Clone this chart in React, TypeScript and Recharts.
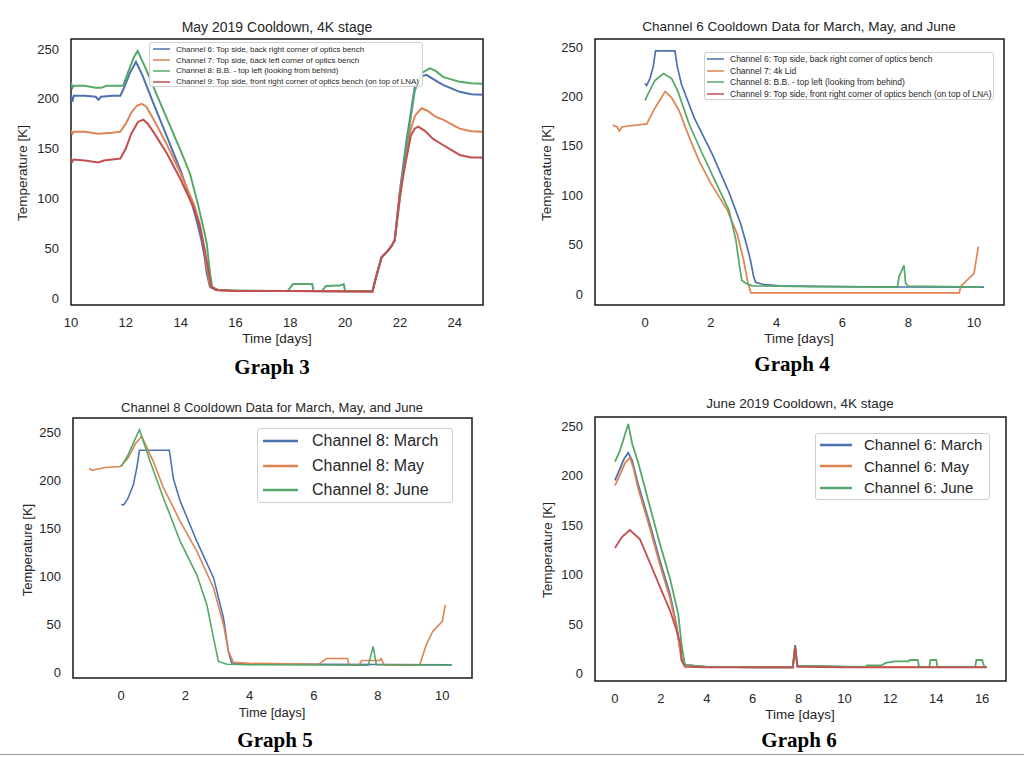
import React from 'react';
import { LineChart, Line, XAxis, YAxis, ReferenceArea, Legend } from 'recharts';

type Pt = [number, number];

const BLUE = '#4C72B0';
const ORANGE = '#DD8452';
const GREEN = '#55A868';
const RED = '#C44E52';
const SANS = '"Liberation Sans", Arial, Helvetica, sans-serif';
const SERIF = '"Liberation Serif", "Times New Roman", serif';
const INK = '#262626';

// ---- Graph 3: May 2019 cooldown, 4K stage ----
const G3_NAMES = [
  'Channel 6: Top side, back right corner of optics bench',
  'Channel 7: Top side, back left corner of optics bench',
  'Channel 8: B.B. - top left (looking from behind)',
  'Channel 9: Top side, front right corner of optics bench (on top of LNA)',
];
const G3_X_TICKS = [10, 12, 14, 16, 18, 20, 22, 24];
const G3_CH6: Pt[] = [
  [10, 203], [10.05, 197], [10.1, 203], [10.5, 203], [10.9, 202], [11.0, 199], [11.1, 202], [11.5, 203],
  [11.8, 203], [11.95, 212], [12.15, 226], [12.37, 237], [12.6, 224], [13.0, 196], [13.5, 162], [14.0, 128],
  [14.4, 96], [14.6, 76], [14.76, 58], [14.88, 40], [14.95, 25], [15.07, 11], [15.3, 8], [16, 7], [18, 7],
  [21.0, 6.5], [21.1, 18], [21.33, 41], [21.55, 47], [21.69, 52], [21.81, 58], [22.0, 108], [22.24, 158],
  [22.4, 186], [22.54, 212], [22.75, 222], [22.97, 224], [23.2, 220], [23.57, 214], [24.18, 207],
  [24.6, 204.5], [25, 204],
];
const G3_CH7: Pt[] = [
  [10, 168], [10.05, 165], [10.1, 167], [10.5, 167], [11.0, 165], [11.5, 166], [11.8, 167], [12.0, 175],
  [12.2, 186], [12.4, 193], [12.58, 195], [12.75, 192], [13.0, 180], [13.5, 154], [14.0, 125], [14.5, 93],
  [14.7, 74], [14.85, 52], [14.95, 33], [15.07, 12], [15.3, 8], [16, 7], [18, 7], [21.0, 6.5], [21.1, 18],
  [21.33, 41], [21.55, 47], [21.69, 52], [21.81, 58], [22.0, 106], [22.2, 140], [22.4, 170], [22.55, 183],
  [22.79, 190.5], [23.0, 188], [23.3, 182], [23.57, 179], [24.18, 170], [24.6, 167.5], [25, 167],
];
const G3_CH8: Pt[] = [
  [10, 216], [10.05, 211], [10.1, 213], [10.5, 213], [10.9, 211], [11.1, 211], [11.3, 213], [11.9, 213],
  [12.1, 228], [12.3, 242], [12.43, 248], [12.7, 232], [13.1, 206], [13.5, 180], [14.0, 148], [14.34, 125],
  [14.64, 93], [14.85, 68], [14.95, 55], [15.07, 25], [15.15, 11], [15.4, 8], [16, 7.5], [17.9, 7], [18.1, 14],
  [18.8, 14], [18.85, 7], [19.15, 7], [19.3, 12], [19.8, 12.5], [19.95, 14], [20.0, 7], [21.0, 7], [21.1, 18],
  [21.33, 41], [21.55, 47], [21.69, 52], [21.81, 58], [22.0, 100], [22.2, 145], [22.4, 182], [22.54, 208],
  [22.8, 226], [23.09, 230.6], [23.3, 228], [23.57, 222], [24.18, 217], [24.6, 215.5], [25, 215],
];
const G3_CH9: Pt[] = [
  [10, 140], [10.05, 137], [10.1, 139], [10.5, 138], [11.0, 136], [11.2, 138], [11.8, 140], [12.0, 150],
  [12.2, 165], [12.45, 177], [12.64, 179], [12.8, 175], [13.0, 167], [13.5, 145], [14.0, 119], [14.5, 89],
  [14.7, 72], [14.85, 52], [15.0, 30], [15.1, 12], [15.3, 8], [16, 7], [18, 7], [21.0, 6.5], [21.1, 18],
  [21.33, 41], [21.55, 47], [21.69, 52], [21.81, 58], [22.0, 103], [22.2, 135], [22.4, 163], [22.54, 170],
  [22.66, 172], [22.9, 168], [23.2, 160], [23.57, 153.6], [24.18, 143.6], [24.6, 141], [25, 141],
];

// ---- Graph 4: Channel 6 cooldown, March / May / June ----
const G4_NAMES = [
  'Channel 6: Top side, back right corner of optics bench',
  'Channel 7: 4k Lid',
  'Channel 8: B.B. - top left (looking from behind)',
  'Channel 9: Top side, front right corner of optics bench (on top of LNA)',
];
const G4_X_TICKS = [0, 2, 4, 6, 8, 10];
const G4_CH6: Pt[] = [
  [0, 213], [0.05, 211], [0.15, 218], [0.25, 230], [0.32, 246], [0.91, 246], [0.98, 230], [1.11, 212],
  [1.5, 178], [2.05, 141], [2.55, 103], [2.9, 72], [3.07, 52], [3.2, 35], [3.3, 18], [3.36, 12], [3.57, 10],
  [4.07, 8.4], [6, 7.5], [8, 7.2], [10.3, 7],
];
const G4_CH7: Pt[] = [
  [-0.98, 171], [-0.85, 169], [-0.78, 165], [-0.7, 169], [-0.5, 170], [0, 172], [0.05, 172], [0.3, 188],
  [0.61, 204.8], [0.8, 199], [1.03, 186], [1.34, 159], [1.64, 135], [2.0, 112], [2.5, 85], [2.8, 61],
  [3.0, 34], [3.12, 12], [3.22, 1.3], [9.55, 1.3], [9.6, 8], [10.0, 21], [10.13, 48],
];
const G4_CH8: Pt[] = [
  [0, 196], [0.1, 203], [0.3, 216], [0.56, 223], [0.81, 218], [1.0, 205], [1.34, 172], [1.7, 145],
  [2.05, 120], [2.55, 85], [2.76, 55], [2.86, 31], [2.94, 14], [3.06, 11], [3.26, 8.4], [5, 7.5], [7.67, 7],
  [7.72, 17.5], [7.87, 29], [7.92, 11], [8.0, 8], [10.2, 7],
];
const G4_CH9: Pt[] = [];

// ---- Graph 5: Channel 8 cooldown, March / May / June ----
const G5_NAMES = ['Channel 8: March', 'Channel 8: May', 'Channel 8: June'];
const G5_X_TICKS = [0, 2, 4, 6, 8, 10];
const G5_MARCH: Pt[] = [
  [0, 174.5], [0.08, 174], [0.2, 180], [0.38, 195], [0.5, 215], [0.57, 231], [1.5, 231], [1.58, 212.5],
  [1.63, 201], [1.84, 178], [2.36, 136], [2.88, 98], [3.19, 56], [3.34, 21.5], [3.44, 9.4], [4.0, 8.3],
  [10.3, 7.5],
];
const G5_MAY: Pt[] = [
  [-1, 212], [-0.9, 210], [-0.8, 211], [-0.5, 213], [-0.03, 214], [0.2, 222], [0.45, 238], [0.64, 245.5],
  [1.0, 219.5], [1.32, 191.7], [1.84, 157], [2.36, 125.7], [2.88, 87.5], [3.19, 49], [3.34, 21.5], [3.5, 10],
  [4.0, 9], [6.15, 8], [6.4, 14], [7.05, 14], [7.1, 7], [7.4, 7], [7.5, 12], [8.05, 12], [8.1, 14], [8.2, 7],
  [9.3, 7], [9.5, 28], [9.7, 42], [10.0, 52.6], [10.1, 70],
];
const G5_JUNE: Pt[] = [
  [0, 214], [0.2, 225], [0.4, 240], [0.57, 252.4], [0.9, 219.5], [1.32, 181], [1.84, 136], [2.36, 101],
  [2.67, 70], [2.88, 35], [3.03, 11], [3.3, 8], [4, 7.5], [7.7, 7], [7.85, 26.7], [7.95, 7.6], [10.3, 7],
];

// ---- Graph 6: June 2019 cooldown, 4K stage ----
const G6_NAMES = ['Channel 6: March', 'Channel 6: May', 'Channel 6: June'];
const G6_X_TICKS = [0, 2, 4, 6, 8, 10, 12, 14, 16];
const G6_MARCH: Pt[] = [
  [0, 195], [0.2, 206], [0.4, 217], [0.58, 223], [0.75, 215], [1.0, 192], [1.53, 150], [1.96, 114],
  [2.4, 80], [2.69, 48], [2.91, 14], [3.05, 9], [4, 7], [7.75, 6.5], [7.85, 29], [7.95, 8], [10, 7], [16.2, 7],
];
const G6_MAY: Pt[] = [
  [0, 189.7], [0.2, 200], [0.45, 213], [0.65, 218], [0.8, 208], [1.0, 188], [1.53, 146], [1.96, 110],
  [2.4, 76], [2.69, 46], [2.91, 13], [3.05, 9], [4, 7], [7.75, 6.5], [7.85, 27], [7.95, 8], [10, 7], [16.2, 7],
];
const G6_JUNE: Pt[] = [
  [0, 214], [0.2, 224], [0.42, 240], [0.58, 252], [0.75, 232], [1.0, 214], [1.53, 168], [1.96, 131],
  [2.4, 96], [2.76, 60], [2.91, 28], [3.05, 9], [3.2, 8.5], [4, 7], [7.75, 6.5], [7.85, 27], [7.95, 8],
  [10.9, 7], [11.0, 8.5], [11.6, 8.5], [11.8, 11], [12.2, 12.5], [12.8, 12.5], [12.85, 14], [13.2, 14],
  [13.25, 7], [13.7, 7], [13.75, 14], [14.0, 14], [14.05, 7], [15.7, 7], [15.75, 14], [16.0, 14],
  [16.1, 7], [16.2, 7],
];
const G6_RED: Pt[] = [
  [0, 127], [0.3, 138], [0.65, 145], [1.09, 135.6], [1.53, 111.7], [1.96, 87.8], [2.4, 63.8], [2.69, 43.3],
  [2.85, 30], [2.91, 13], [3.05, 7], [4, 6.5], [7.75, 6.5], [7.85, 27], [7.95, 7], [10, 6.5], [16.2, 6.5],
];

const Y_TICKS = [0, 50, 100, 150, 200, 250];

const rows = (pts: Pt[]) => pts.map(([t, v]) => ({ t, v }));

interface Series {
  name: string;
  color: string;
  points: Pt[];
  noLegend?: boolean;
}

interface LegendBox {
  left: number;
  top: number;
  width: number;
  height: number;
  fontSize: number;
  rowH: number;
  handle: number;
  gap: number;
  padX: number;
  padY: number;
  lineW: number;
}

interface PanelProps {
  left: number;
  top: number;
  width: number;
  height: number;
  margin: { top: number; right: number; bottom: number; left: number };
  xDomain: [number, number];
  yDomain: [number, number];
  xTicks: number[];
  series: Series[];
  legend: LegendBox;
  strokeW: number;
}

// legend keeps the series order (recharts would sort the payload by name)
const renderLegend = (lg: LegendBox, series: Series[]) => () => (
  <div
    style={{
      width: lg.width,
      height: lg.height,
      boxSizing: 'border-box',
      border: '1px solid #cfcfcf',
      borderRadius: 3,
      background: 'rgba(255,255,255,0.85)',
      padding: `${lg.padY}px ${lg.padX}px`,
      fontFamily: SANS,
      fontSize: lg.fontSize,
      color: INK,
    }}
  >
    {series.filter(s => !s.noLegend).map(s => (
      <div key={s.name} style={{ display: 'flex', alignItems: 'center', height: lg.rowH, whiteSpace: 'nowrap' }}>
        <svg width={lg.handle} height={6} style={{ marginRight: lg.gap, flex: 'none' }}>
          <line x1={0} x2={lg.handle} y1={3} y2={3} stroke={s.color} strokeWidth={lg.lineW} />
        </svg>
        {s.name}
      </div>
    ))}
  </div>
);

function Panel(p: PanelProps) {
  const tick = { fontSize: 13, fill: INK, fontFamily: SANS };
  return (
    <div style={{ position: 'absolute', left: p.left, top: p.top }}>
      <LineChart width={p.width} height={p.height} margin={p.margin}>
        <XAxis
          type="number"
          dataKey="t"
          domain={p.xDomain}
          allowDataOverflow
          ticks={p.xTicks}
          tickLine={false}
          axisLine={false}
          tick={tick}
          tickMargin={7}
          height={30}
        />
        <YAxis
          type="number"
          domain={p.yDomain}
          allowDataOverflow
          ticks={Y_TICKS}
          tickLine={false}
          axisLine={false}
          tick={tick}
          tickMargin={6}
          width={45}
        />
        <ReferenceArea
          x1={p.xDomain[0]}
          x2={p.xDomain[1]}
          y1={p.yDomain[0]}
          y2={p.yDomain[1]}
          fill="none"
          stroke="#1a1a1a"
          strokeWidth={1.5}
          ifOverflow="visible"
        />
        {p.series.map(s => (
          <Line
            key={s.name}
            data={rows(s.points)}
            dataKey="v"
            name={s.name}
            type="linear"
            stroke={s.color}
            strokeWidth={p.strokeW}
            dot={false}
            activeDot={false}
            legendType={s.noLegend ? 'none' : 'line'}
            isAnimationActive={false}
          />
        ))}
        <Legend
          verticalAlign="middle"
          align="center"
          layout="vertical"
          content={renderLegend(p.legend, p.series)}
          wrapperStyle={{ left: p.legend.left, top: p.legend.top, width: p.legend.width, height: p.legend.height }}
        />
      </LineChart>
    </div>
  );
}

const Txt = ({ x, y, size, children, rotate, bold, serif }: any) => (
  <div
    style={{
      position: 'absolute',
      left: x,
      top: y,
      transform: `translate(-50%, -50%)${rotate ? ' rotate(-90deg)' : ''}`,
      fontFamily: serif ? SERIF : SANS,
      fontSize: size,
      fontWeight: bold ? 700 : 400,
      color: serif ? '#000' : INK,
      whiteSpace: 'nowrap',
      lineHeight: 1,
    }}
  >
    {children}
  </div>
);

export default function App() {
  return (
    <div style={{ position: 'absolute', left: 0, top: 0, width: 1024, height: 757, background: '#fff', overflow: 'hidden' }}>
      <Panel
        left={0}
        top={0}
        width={512}
        height={380}
        margin={{ top: 39, right: 29, bottom: 45, left: 26 }}
        xDomain={[10, 25.03]}
        yDomain={[-7, 260]}
        xTicks={G3_X_TICKS}
        strokeW={2}
        series={[
          { name: G3_NAMES[0], color: BLUE, points: G3_CH6 },
          { name: G3_NAMES[1], color: ORANGE, points: G3_CH7 },
          { name: G3_NAMES[2], color: GREEN, points: G3_CH8 },
          { name: G3_NAMES[3], color: RED, points: G3_CH9 },
        ]}
        legend={{ left: 149, top: 42, width: 274, height: 45, fontSize: 7.9, rowH: 10.8, handle: 17, gap: 6, padX: 3, padY: 1, lineW: 1.5 }}
      />
      <Panel
        left={512}
        top={0}
        width={512}
        height={380}
        margin={{ top: 39, right: 20, bottom: 45, left: 38 }}
        xDomain={[-1.52, 10.91]}
        yDomain={[-11, 258]}
        xTicks={G4_X_TICKS}
        strokeW={1.7}
        series={[
          { name: G4_NAMES[0], color: BLUE, points: G4_CH6 },
          { name: G4_NAMES[1], color: ORANGE, points: G4_CH7 },
          { name: G4_NAMES[2], color: GREEN, points: G4_CH8 },
          { name: G4_NAMES[3], color: RED, points: G4_CH9 },
        ]}
        legend={{ left: 192, top: 52, width: 290, height: 48, fontSize: 8.5, rowH: 11.7, handle: 17, gap: 6, padX: 2, padY: 0, lineW: 1.5 }}
      />
      <Panel
        left={0}
        top={385}
        width={512}
        height={372}
        margin={{ top: 33, right: 40, bottom: 49, left: 28 }}
        xDomain={[-1.5, 10.93]}
        yDomain={[-6.25, 264.6]}
        xTicks={G5_X_TICKS}
        strokeW={1.6}
        series={[
          { name: G5_NAMES[0], color: BLUE, points: G5_MARCH },
          { name: G5_NAMES[1], color: ORANGE, points: G5_MAY },
          { name: G5_NAMES[2], color: GREEN, points: G5_JUNE },
        ]}
        legend={{ left: 257, top: 43, width: 196, height: 75, fontSize: 16, rowH: 24.5, handle: 35, gap: 14, padX: 5, padY: 0, lineW: 2.5 }}
      />
      <Panel
        left={512}
        top={385}
        width={512}
        height={372}
        margin={{ top: 32, right: 18, bottom: 46, left: 38 }}
        xDomain={[-0.87, 17.04]}
        yDomain={[-7.2, 259]}
        xTicks={G6_X_TICKS}
        strokeW={1.8}
        series={[
          { name: G6_NAMES[0], color: BLUE, points: G6_MARCH },
          { name: G6_NAMES[1], color: ORANGE, points: G6_MAY },
          { name: G6_NAMES[2], color: GREEN, points: G6_JUNE },
          { name: 'Channel 6: red', color: RED, points: G6_RED, noLegend: true },
        ]}
        legend={{ left: 303, top: 48, width: 175, height: 67, fontSize: 15, rowH: 21.5, handle: 32, gap: 12, padX: 4, padY: 0, lineW: 2.5 }}
      />

      <Txt x={277} y={27} size={14}>May 2019 Cooldown, 4K stage</Txt>
      <Txt x={277} y={339} size={13.5}>Time [days]</Txt>
      <Txt x={23} y={173} size={13.5} rotate>Temperature [K]</Txt>
      <Txt x={272} y={367} size={21} bold serif>Graph 3</Txt>

      <Txt x={799} y={27} size={13.5}>Channel 6 Cooldown Data for March, May, and June</Txt>
      <Txt x={799} y={339} size={13.5}>Time [days]</Txt>
      <Txt x={547} y={173} size={13.5} rotate>Temperature [K]</Txt>
      <Txt x={792} y={364} size={21} bold serif>Graph 4</Txt>

      <Txt x={272} y={407} size={13}>Channel 8 Cooldown Data for March, May, and June</Txt>
      <Txt x={272} y={712} size={13}>Time [days]</Txt>
      <Txt x={27} y={550} size={13} rotate>Temperature [K]</Txt>
      <Txt x={275} y={740} size={21} bold serif>Graph 5</Txt>

      <Txt x={800} y={404} size={13.5}>June 2019 Cooldown, 4K stage</Txt>
      <Txt x={800} y={715} size={13.5}>Time [days]</Txt>
      <Txt x={548} y={550} size={13.5} rotate>Temperature [K]</Txt>
      <Txt x={799} y={740} size={21} bold serif>Graph 6</Txt>

      <div style={{ position: 'absolute', left: 0, top: 754, width: 1024, height: 1, background: '#9a9a9a' }} />
    </div>
  );
}
